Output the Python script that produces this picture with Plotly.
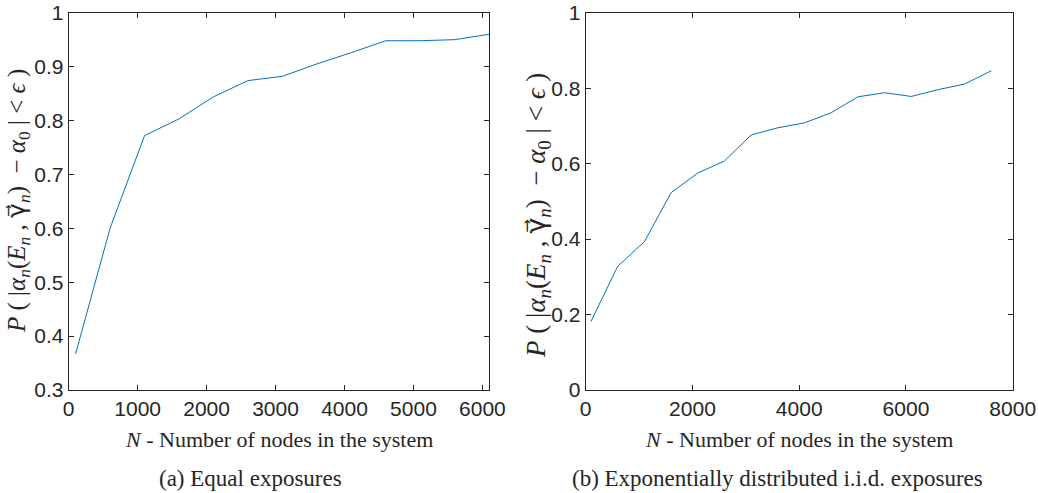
import plotly.graph_objects as go

# ---- data ----
n_equal = [100, 600, 1100, 1600, 2100, 2600, 3100, 3600, 4100, 4600, 5100, 5600, 6100]
p_equal = [0.367, 0.600, 0.772, 0.803, 0.844, 0.874, 0.882, 0.905, 0.926, 0.948, 0.948, 0.950, 0.960]

n_exp = [100, 600, 1100, 1600, 2100, 2600, 3100, 3600, 4100, 4600, 5100, 5600, 6100, 6600, 7100, 7600]
p_exp = [0.182, 0.328, 0.393, 0.523, 0.575, 0.607, 0.676, 0.695, 0.708, 0.735, 0.777, 0.788, 0.778, 0.796, 0.811, 0.846]

yticks_a = [0.3, 0.4, 0.5, 0.6, 0.7, 0.8, 0.9, 1.0]
yticklabels_a = ["0.3", "0.4", "0.5", "0.6", "0.7", "0.8", "0.9", "1"]
xticks_a = [0, 1000, 2000, 3000, 4000, 5000, 6000]
yticks_b = [0, 0.2, 0.4, 0.6, 0.8, 1.0]
yticklabels_b = ["0", "0.2", "0.4", "0.6", "0.8", "1"]
xticks_b = [0, 2000, 4000, 6000, 8000]

LINE = "#0072BD"
AX = "#262626"
W, H = 1038, 493

fig = go.Figure()
fig.add_trace(go.Scatter(x=n_equal, y=p_equal, mode="lines",
                         line=dict(color=LINE, width=1), xaxis="x", yaxis="y",
                         showlegend=False))
fig.add_trace(go.Scatter(x=n_exp, y=p_exp, mode="lines",
                         line=dict(color=LINE, width=1), xaxis="x2", yaxis="y2",
                         showlegend=False))

tickfont = dict(family="Liberation Sans, Arial, sans-serif", size=21, color=AX)
common = dict(showgrid=False, zeroline=False, showline=True, linecolor=AX, linewidth=1,
              mirror="ticks", ticks="inside", ticklen=5, tickwidth=1, tickcolor=AX,
              tickfont=tickfont, automargin=False)

ytop = 1 - 12.7 / H
ybot = 1 - 390 / H

fig.update_layout(
    width=W, height=H,
    margin=dict(l=0, r=0, t=0, b=0),
    paper_bgcolor="white", plot_bgcolor="white",
    xaxis=dict(domain=[68.7 / W, 489.3 / W], range=[0, 6100], tickvals=xticks_a,
               ticktext=[str(v) for v in xticks_a], anchor="y", **common),
    yaxis=dict(domain=[ybot, ytop], range=[0.3, 1], tickvals=yticks_a,
               ticktext=yticklabels_a, anchor="x", **common),
    xaxis2=dict(domain=[585.7 / W, 1012.7 / W], range=[0, 8000], tickvals=xticks_b,
                ticktext=[str(v) for v in xticks_b], anchor="y2", **common),
    yaxis2=dict(domain=[ybot, ytop], range=[0, 1], tickvals=yticks_b,
                ticktext=yticklabels_b, anchor="x2", **common),
)

serif = dict(family="Liberation Serif, Times New Roman, serif", size=22, color=AX)
capfont = dict(family="Liberation Serif, Times New Roman, serif", size=23, color=AX)
yfont_a = dict(family="Liberation Serif, Times New Roman, serif", size=25, color=AX)
yfont_b = dict(family="Liberation Serif, Times New Roman, serif", size=27, color=AX)
ytitle = ("<i>P</i> ( |<i>α<sub>n</sub></i>(<i>E<sub>n</sub></i> , "
          "<span style=\"font-family:DejaVu Sans\">γ\u20d7</span><sub><i>n</i></sub>) "
          " − <i>α</i><sub>0</sub> | &lt; <i>ϵ</i> )")
xtitle = "<i>N</i> - Number of nodes in the system"

anns = [
    dict(x=18 / W, y=1 - 201 / H, text=ytitle, textangle=-90, font=yfont_a),
    dict(x=537 / W, y=1 - 216 / H, text=ytitle, textangle=-90, font=yfont_b),
    dict(x=279 / W, y=1 - 439 / H, text=xtitle, font=serif),
    dict(x=799 / W, y=1 - 439 / H, text=xtitle, font=serif),
    dict(x=250 / W, y=1 - 478 / H, text="(a) Equal exposures", font=capfont),
    dict(x=777 / W, y=1 - 478 / H, text="(b) Exponentially distributed i.i.d. exposures", font=capfont),
]
for a in anns:
    fig.add_annotation(xref="paper", yref="paper", showarrow=False,
                       xanchor="center", yanchor="middle", **a)

fig.write_html("out.html", config={"displayModeBar": False},
               post_script="document.body.style.margin='0';document.body.style.padding='0';")
